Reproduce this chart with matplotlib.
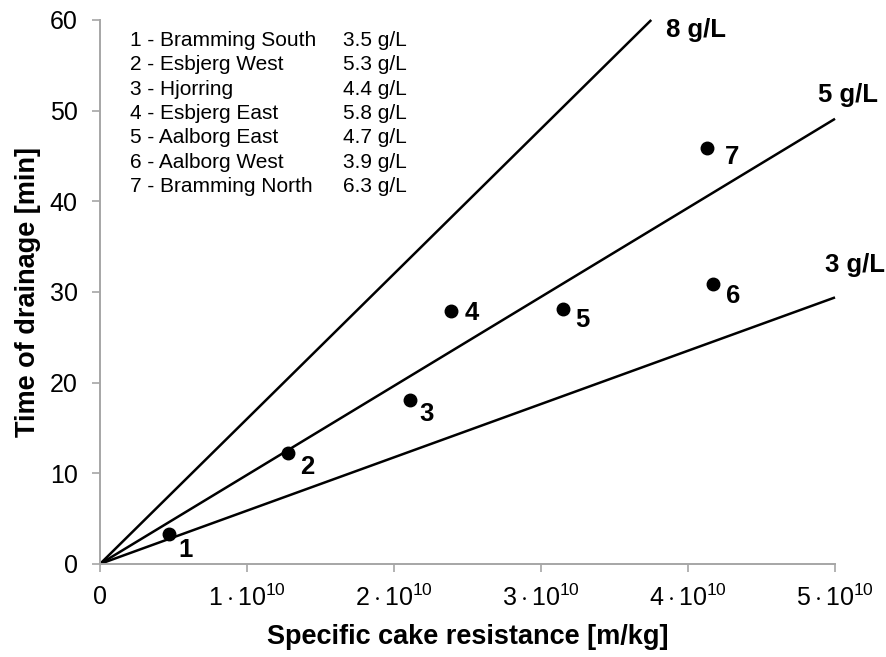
import numpy as np
import matplotlib
matplotlib.use("Agg")
import matplotlib.pyplot as plt

plt.rcParams["font.family"] = ["Liberation Sans", "DejaVu Sans"]
plt.rcParams["mathtext.fontset"] = "custom"
plt.rcParams["mathtext.rm"] = "Liberation Sans"
plt.rcParams["mathtext.it"] = "Liberation Sans"
plt.rcParams["mathtext.bf"] = "Liberation Sans:bold"

# measured plants
site_ids = ["1", "2", "3", "4", "5", "6", "7"]
site_names = ["Bramming South", "Esbjerg West", "Hjorring", "Esbjerg East",
              "Aalborg East", "Aalborg West", "Bramming North"]
site_conc = ["3.5 g/L", "5.3 g/L", "4.4 g/L", "5.8 g/L", "4.7 g/L", "3.9 g/L", "6.3 g/L"]
resistance = [0.47e10, 1.28e10, 2.11e10, 2.39e10, 3.15e10, 4.17e10, 4.13e10]
drain_time = [3.3, 12.2, 18.1, 27.9, 28.1, 30.9, 45.9]

# model lines (origin -> end point)
line_labels = ["8 g/L", "5 g/L", "3 g/L"]
line_x_end = [3.75e10, 5.0e10, 5.0e10]
line_y_end = [60.0, 49.1, 29.4]

x_ticks = [0, 1e10, 2e10, 3e10, 4e10, 5e10]
x_tick_labels = [r"$0^{\ }$", r"$1\cdot10^{10}$", r"$2\cdot10^{10}$", r"$3\cdot10^{10}$",
                 r"$4\cdot10^{10}$", r"$5\cdot10^{10}$"]
y_ticks = [0, 10, 20, 30, 40, 50, 60]

# label offsets in points (layout only)
pt_offsets = [(12, -11.5), (13.7, -10), (12, -10), (15, -1.5), (13.7, -8), (14.4, -8.6), (18, -6.5)]
line_label_offsets = [(10.8, -7.2), (-12.2, 17.3), (-7.2, 23)]

fig = plt.figure(figsize=(8.87, 6.57), dpi=100)
ax = fig.add_axes([0.1127, 0.1416, 0.8287, 0.828])

for lab, xe, ye, off in zip(line_labels, line_x_end, line_y_end, line_label_offsets):
    ax.plot([0, xe], [0, ye], color="black", lw=1.8, solid_capstyle="butt", clip_on=False)
    ax.annotate(lab, (xe, ye), xytext=off, textcoords="offset points",
                fontsize=18.5, fontweight="bold", ha="left", va="center")

ax.plot(resistance, drain_time, "o", color="black", ms=9, zorder=3)
for sid, x, y, off in zip(site_ids, resistance, drain_time, pt_offsets):
    ax.annotate(sid, (x, y), xytext=off, textcoords="offset points",
                fontsize=18.5, fontweight="bold", ha="center", va="center")

# key table in the upper-left corner
for i, (sid, name, conc) in enumerate(zip(site_ids, site_names, site_conc)):
    yy = 0.962 - i * 0.0447
    ax.text(0.041, yy, f"{sid} - {name}", transform=ax.transAxes, fontsize=15, va="center")
    ax.text(0.331, yy, conc, transform=ax.transAxes, fontsize=15, va="center")

ax.set_xlim(0, 5e10)
ax.set_ylim(0, 60)
ax.set_xticks(x_ticks)
ax.set_xticklabels(x_tick_labels, fontsize=18)
ax.set_yticks(y_ticks)
ax.tick_params(axis="y", labelsize=18)
ax.tick_params(direction="out", length=6, width=1.2, color="#a6a6a6", pad=10)
ax.tick_params(axis="x", pad=9)

for side in ["top", "right"]:
    ax.spines[side].set_visible(False)
for side in ["left", "bottom"]:
    ax.spines[side].set_color("#a6a6a6")
    ax.spines[side].set_linewidth(1.4)

ax.set_xlabel("Specific cake resistance [m/kg]", fontsize=19.5, fontweight="bold", labelpad=9)
ax.set_ylabel("Time of drainage [min]", fontsize=19.5, fontweight="bold", labelpad=6)

fig.savefig("out.png", dpi=100)
